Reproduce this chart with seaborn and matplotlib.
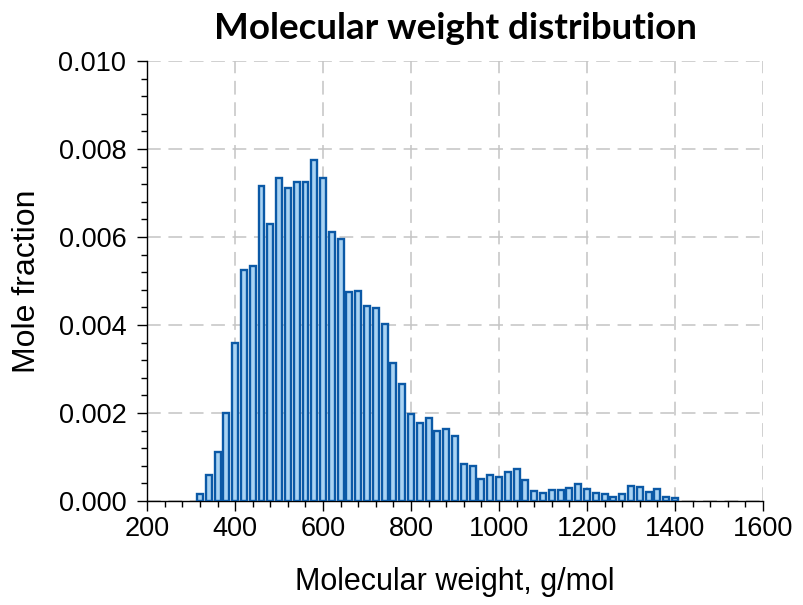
import numpy as np
import pandas as pd
import matplotlib
matplotlib.use("Agg")
import matplotlib.pyplot as plt
from matplotlib.ticker import MultipleLocator, FormatStrFormatter
import seaborn as sns

# Molecular weight bins (g/mol)
mw = list(range(320, 1401, 20))
# Mole fraction per bin
mole_fraction = [
    0.00015, 0.00060, 0.00112, 0.00200, 0.00358, 0.00525, 0.00534, 0.00715,
    0.00630, 0.00735, 0.00712, 0.00726, 0.00724, 0.00776, 0.00734, 0.00611,
    0.00596, 0.00475, 0.00477, 0.00444, 0.00438, 0.00403, 0.00313, 0.00267,
    0.00198, 0.00177, 0.00188, 0.00160, 0.00163, 0.00147, 0.00084, 0.00079,
    0.00050, 0.00059, 0.00055, 0.00066, 0.00073, 0.00047, 0.00022, 0.00018,
    0.00025, 0.00025, 0.00029, 0.00038, 0.00027, 0.00018, 0.00016, 0.00008,
    0.00015, 0.00035, 0.00031, 0.00021, 0.00027, 0.00010, 0.00006,
]
x_ticks = [200, 400, 600, 800, 1000, 1200, 1400, 1600]
y_ticks = [0.000, 0.002, 0.004, 0.006, 0.008, 0.010]

df = pd.DataFrame({"mw": mw, "frac": mole_fraction})

sns.set_style("white")
plt.rcParams["font.family"] = ["Liberation Sans", "DejaVu Sans"]
plt.rcParams["text.color"] = "black"
plt.rcParams["axes.labelcolor"] = "black"
plt.rcParams["xtick.color"] = "black"
plt.rcParams["ytick.color"] = "black"

fig = plt.figure(figsize=(8.04, 6.05), dpi=100)
ax = fig.add_axes([0.183, 0.172, 0.766, 0.727])

sns.barplot(data=df, x="mw", y="frac", native_scale=True, width=0.68,
            color="#a9d3f3", edgecolor="#0b59a6", linewidth=1.7,
            saturation=1, ax=ax, zorder=3)

ax.set_xlim(200, 1600)
ax.set_ylim(0, 0.010)
ax.set_xticks(x_ticks)
ax.set_yticks(y_ticks)
ax.yaxis.set_major_formatter(FormatStrFormatter("%.3f"))
ax.xaxis.set_minor_locator(MultipleLocator(40))
ax.yaxis.set_minor_locator(MultipleLocator(0.0004))

ax.grid(True, which="major", color="#c4c4c4", linestyle=(0, (9, 5)), linewidth=1.1, zorder=0)
ax.set_axisbelow(True)

for s in ["top", "right"]:
    ax.spines[s].set_visible(False)
for s in ["left", "bottom"]:
    ax.spines[s].set_color("black")
    ax.spines[s].set_linewidth(1.0)

ax.tick_params(axis="both", which="major", direction="out", length=7, width=1,
               labelsize=19.5, colors="black", bottom=True, left=True)
ax.tick_params(axis="y", which="major", pad=8)
ax.tick_params(axis="both", which="minor", direction="out", length=4, width=1,
               colors="black", bottom=True, left=True)

ax.set_xlabel("Molecular weight, g/mol", fontsize=22, labelpad=18, color="black")
ax.set_ylabel("Mole fraction", fontsize=23, labelpad=12, color="black")
ax.set_title("Molecular weight distribution", fontsize=26.5, fontweight="bold",
             family=["Lato", "DejaVu Sans"], pad=16, color="black")

fig.savefig("out.png", dpi=100)
